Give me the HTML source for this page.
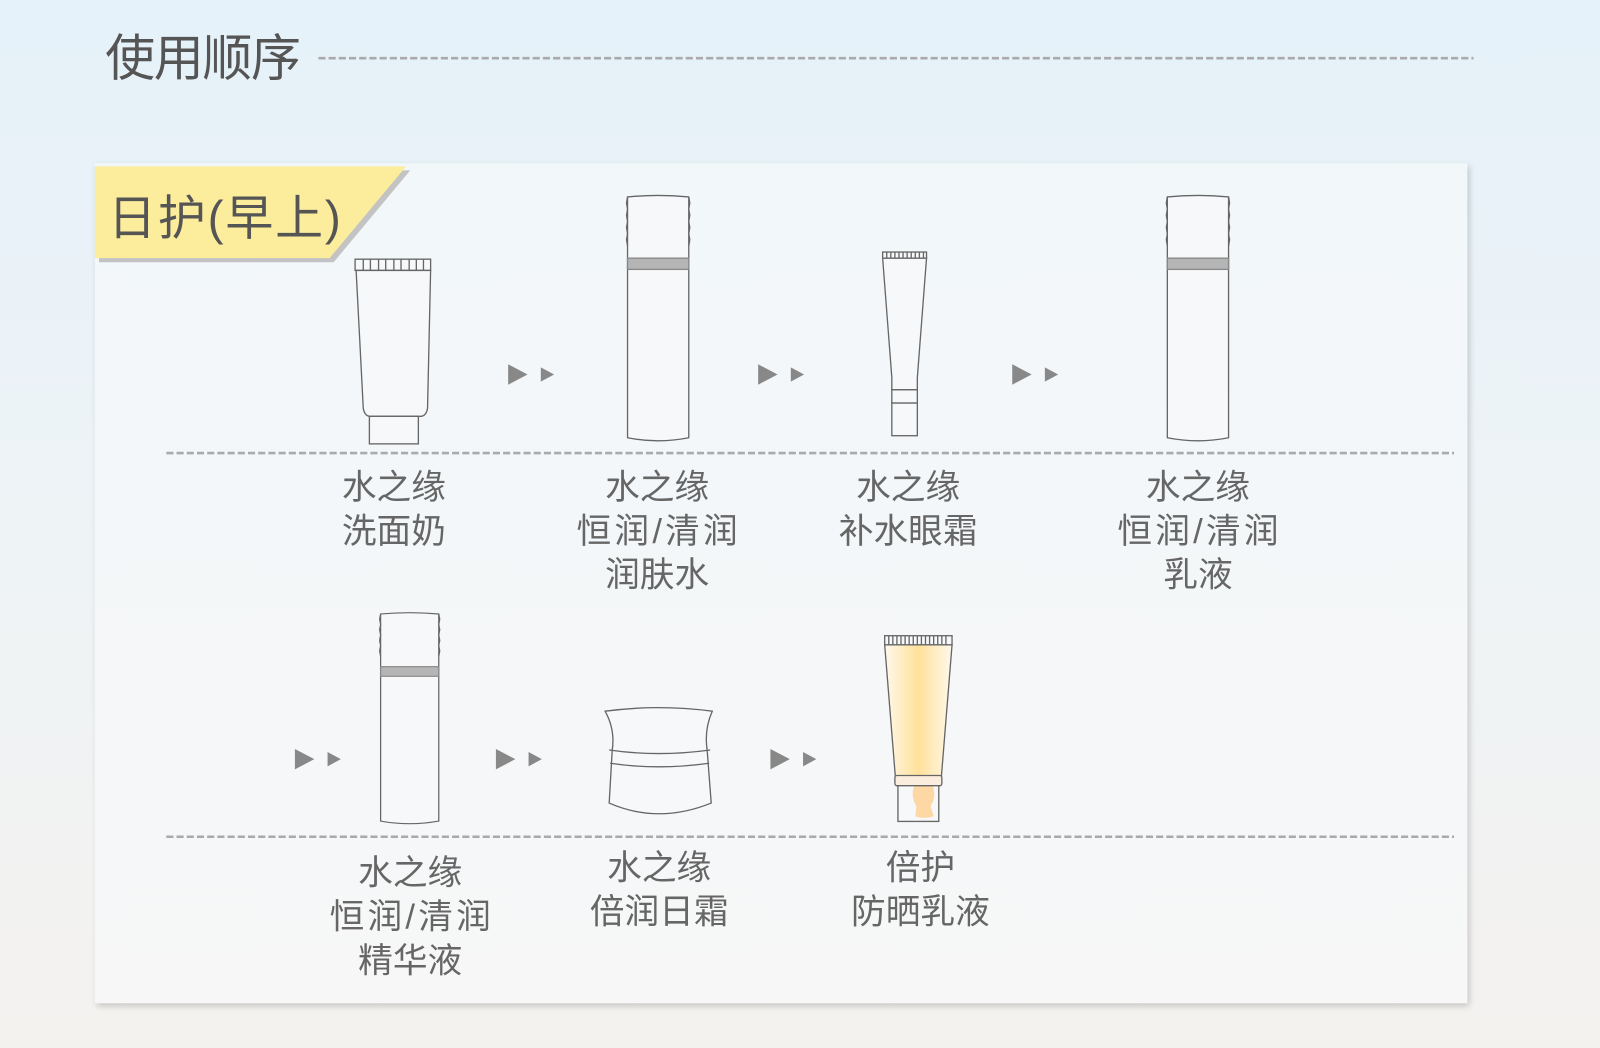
<!DOCTYPE html>
<html><head><meta charset="utf-8"><style>
html,body{margin:0;padding:0;width:1600px;height:1048px;overflow:hidden;background:linear-gradient(#e5f2f9,#eef3f6 50%,#f4f2ef);}
#w{width:1568px;height:1027px;transform:scale(1.0204);transform-origin:0 0;position:relative;}
svg{position:absolute;left:0;top:0}
text{font-family:"Liberation Sans","Noto Sans CJK SC",sans-serif;fill:#666;}
</style></head><body><div id="w">
<svg width="1568" height="1027" viewBox="0 0 1568 1027">
<defs>
<linearGradient id="pg" x1="0" y1="0" x2="0" y2="1"><stop offset="0" stop-color="#f2f7fa"/><stop offset="1" stop-color="#f7f7f7"/></linearGradient>
<linearGradient id="yg" x1="0" y1="0" x2="1" y2="0"><stop offset="0" stop-color="#fff8ec"/><stop offset="0.5" stop-color="#ffe19a"/><stop offset="1" stop-color="#fff8ec"/></linearGradient>
<filter id="sh" x="-5%" y="-5%" width="110%" height="110%"><feDropShadow dx="2" dy="3" stdDeviation="3" flood-color="#000" flood-opacity="0.18"/></filter>
<g id="bottle" fill="#f7f8fa" stroke="#666" stroke-width="1.3">
<path d="M0,2 Q30,-1 60,2 L60,238 Q30,244 0,238 Z"/>
<rect x="0" y="62" width="60" height="11" fill="#b5b5b5" stroke="#888"/>
<path d="M0,2 l-1,6 1,6 -1,6 1,6 -1,6 1,6 -1,6 1,6 M60,2 l1,6 -1,6 1,6 -1,6 1,6 -1,6 1,6 -1,6" fill="none"/>
</g>
<g id="arr" fill="#888"><path d="M0,-10 L19,0 L0,10Z"/><path d="M32,-7 L45,0 L32,7Z"/></g>
</defs>
<text x="103" y="74" style="font-size:49px;fill:#555" textLength="192">使用顺序</text>
<line x1="312" y1="57" x2="1444" y2="57" stroke="#aaa" stroke-width="2.5" stroke-dasharray="7,3"/>
<rect x="93" y="160" width="1345" height="823" fill="url(#pg)" filter="url(#sh)"/>
<polygon points="97,167 402,167 327,257 97,257" fill="#c3c3c3"/>
<polygon points="93,163 398,163 323,253 93,253" fill="#fbed9c"/>
<text x="106" y="230" style="font-size:47px;fill:#555" textLength="228">日护(早上)</text>
<line x1="163" y1="444" x2="1425" y2="444" stroke="#aaa" stroke-width="2.5" stroke-dasharray="7,3"/>
<line x1="163" y1="820" x2="1425" y2="820" stroke="#aaa" stroke-width="2.5" stroke-dasharray="7,3"/>
<use href="#arr" x="498" y="367"/><use href="#arr" x="743" y="367"/><use href="#arr" x="992" y="367"/>
<use href="#arr" x="289" y="744"/><use href="#arr" x="486" y="744"/><use href="#arr" x="755" y="744"/>
<g fill="#f7f8fa" stroke="#666" stroke-width="1.3">
<rect x="348" y="254" width="74" height="11"/>
<path d="M356,254v11M363,254v11M371,254v11M378,254v11M386,254v11M393,254v11M401,254v11M408,254v11M415,254v11" />
<path d="M349,265 L422,265 L419,400 Q418,407 413,408 L362,408 Q357,407 356,400 Z"/>
<rect x="362" y="408" width="48" height="27"/>
</g>
<use href="#bottle" x="615" y="191"/>
<g fill="#f7f8fa" stroke="#666" stroke-width="1.3">
<rect x="865" y="247" width="43" height="6"/>
<path d="M869,247v6M873,247v6M877,247v6M881,247v6M885,247v6M889,247v6M893,247v6M897,247v6M901,247v6M905,247v6"/>
<path d="M865,253 L908,253 L899,370 L899,382 L874,382 L874,370 Z"/>
<rect x="874" y="382" width="25" height="13"/>
<rect x="874" y="395" width="25" height="32"/>
</g>
<use href="#bottle" x="1144" y="191"/>
<use href="#bottle" x="373" y="600" transform="translate(373,600) scale(0.95,0.86) translate(-373,-600)"/>
<g fill="#f7f8fa" stroke="#666" stroke-width="1.3">
<path d="M593,697 Q645,690 698,697 Q690,715 693,735 L697,787 Q645,808 597,787 L600,735 Q603,715 593,697 Z"/>
<path d="M597,735 Q645,742 696,735 M598,748 Q645,755 695,748" fill="none"/>
</g>
<g stroke="#666" stroke-width="1.3">
<rect x="867" y="623" width="66" height="9" fill="#f7f8fa"/>
<path d="M871,623v9M875,623v9M879,623v9M883,623v9M887,623v9M891,623v9M895,623v9M899,623v9M903,623v9M907,623v9M911,623v9M915,623v9M919,623v9M923,623v9M927,623v9" />
<path d="M867,632 L933,632 L922,768 L878,768 Z" fill="url(#yg)"/>
<rect x="880" y="768" width="40" height="37" fill="#f7f8fa"/>
<path d="M896,770 Q892,780 898,790 L897,800 Q905,803 915,800 L912,790 Q918,780 914,770Z" fill="#fdd7a4" stroke="none"/>
<rect x="877" y="760" width="46" height="10" rx="2" fill="#fbeede"/>
</g>
<g style="font-size:34px" text-anchor="middle">
<text x="386" y="489">水之缘</text><text x="386" y="532">洗面奶</text>
<text x="644" y="489">水之缘</text><text x="644" y="532" textLength="158">恒润/清润</text><text x="644" y="575">润肤水</text>
<text x="890" y="489">水之缘</text><text x="890" y="532">补水眼霜</text>
<text x="1174" y="489">水之缘</text><text x="1174" y="532" textLength="158">恒润/清润</text><text x="1174" y="575">乳液</text>
<text x="402" y="867">水之缘</text><text x="402" y="910" textLength="158">恒润/清润</text><text x="402" y="953">精华液</text>
<text x="646" y="862">水之缘</text><text x="646" y="905">倍润日霜</text>
<text x="902" y="862">倍护</text><text x="902" y="905">防晒乳液</text>
</g>
</svg></div></body></html>
